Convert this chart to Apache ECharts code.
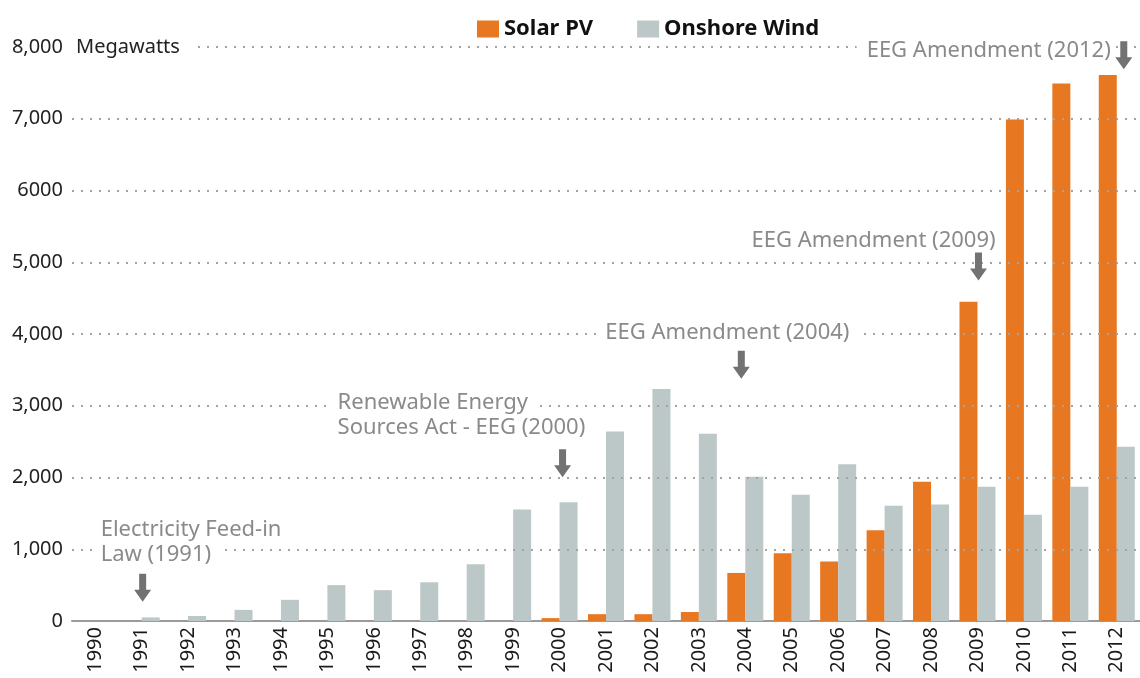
<!DOCTYPE html>
<html>
<head>
<meta charset="utf-8">
<script src="https://cdn.jsdelivr.net/npm/echarts@6/dist/echarts.min.js"></script>
<style>
  html, body { margin: 0; padding: 0; background: #fff; }
  #chart { width: 1140px; height: 678px; }
</style>
</head>
<body>
<div id="chart"></div>
<script>
const years = ["1990", "1991", "1992", "1993", "1994", "1995", "1996", "1997", "1998", "1999", "2000", "2001",
  "2002", "2003", "2004", "2005", "2006", "2007", "2008", "2009", "2010", "2011", "2012"];
const solarPV = [0, 0, 0, 0, 0, 0, 0, 0, 0, 0, 40, 95, 95, 125, 670, 945, 830, 1265, 1940, 4450, 6990, 7490, 7610];
const onshoreWind = [0, 50, 70, 155, 295, 500, 430, 540, 790, 1555, 1655, 2640, 3235, 2610, 2010, 1760, 2185, 1605,
  1625, 1870, 1480, 1870, 2430];
const yTicks = [1000, 2000, 3000, 4000, 5000, 6000, 7000, 8000];
const yTickLabels = ["0", "1,000", "2,000", "3,000", "4,000", "5,000", "6000", "7,000", "8,000"];
const yUnit = "Megawatts";

// annotations: arrow anchored at a year / level, with the text above it
const annoYears = ["1991", "2000", "2004", "2009", "2012"];
const annoLevels = [465, 2200, 3570, 4940, 7885];
const annoTexts = [
  ["Electricity Feed-in", "Law (1991)"],
  ["Renewable Energy", "Sources Act - EEG (2000)"],
  ["EEG Amendment (2004)"],
  ["EEG Amendment (2009)"],
  ["EEG Amendment (2012)"]
];

// label placement relative to each arrow (pixels)
const annoLayout = [
  { dx: -50, dy: -45, shift: 1, align: "left", rich: "b" },
  { dx: -233, dy: -48, shift: 3, align: "left", rich: "b" },
  { dx: -144, dy: -32, shift: -4, align: "left", rich: "b" },
  { dx: -235, dy: -26, shift: 1, align: "left", rich: "b" },
  { dx: -10, dy: -5, shift: 7, align: "right", rich: "r" }
];

const font = "Noto Sans";
const arrowPath = "path://M5 0L12 0L12 16L17 16L8.5 28L0 16L5 16Z";

const annoData = annoYears.map(function (y, i) {
  const lay = annoLayout[i];
  return {
    value: [y, annoLevels[i]],
    symbolOffset: [lay.shift, 0],
    label: {
      show: true,
      position: "inside",
      offset: [lay.dx, lay.dy],
      align: lay.align,
      verticalAlign: "middle",
      formatter: annoTexts[i].map(function (t) { return "{" + lay.rich + "|" + t + "}"; }).join("\n")
    }
  };
});

const annoRich = {
  b: { backgroundColor: "#fff", padding: [0, 8], fontSize: 22, color: "#8a8a8a", lineHeight: 25, fontFamily: font },
  r: { backgroundColor: "#fff", padding: [0, 3, 0, 10], fontSize: 22, color: "#8a8a8a", lineHeight: 25, fontFamily: font }
};

const chart = echarts.init(document.getElementById("chart"));
chart.setOption({
  animation: false,
  textStyle: { fontFamily: font },
  legend: {
    data: ["Solar PV", "Onshore Wind"],
    left: 472,
    top: 13,
    icon: "rect",
    itemWidth: 22,
    itemHeight: 17,
    itemGap: 44,
    selectedMode: false,
    textStyle: { fontSize: 22, fontWeight: "bold", color: "#111", fontFamily: font }
  },
  grid: { left: 72, right: -4, top: 47, bottom: 57 },
  xAxis: {
    type: "category",
    data: years,
    axisLine: { lineStyle: { color: "#9b9b9b", width: 2 } },
    axisTick: { show: false },
    axisLabel: { rotate: 90, fontSize: 20, color: "#1a1a1a", margin: 6, fontFamily: font }
  },
  yAxis: {
    type: "value",
    min: 0,
    max: 8000,
    interval: 1000,
    z: 7,
    name: yUnit,
    nameLocation: "end",
    nameGap: 0,
    nameTextStyle: {
      align: "left",
      verticalAlign: "middle",
      fontSize: 20,
      color: "#222",
      backgroundColor: "#fff",
      padding: [0, 16, 6, 4],
      fontFamily: font
    },
    axisLine: { show: false },
    axisTick: { show: false },
    splitLine: { show: false },
    axisLabel: {
      fontSize: 20,
      color: "#222",
      margin: 9,
      padding: [0, 0, 6, 0],
      fontFamily: font,
      formatter: function (v) { return yTickLabels[Math.round(v / 1000)]; }
    }
  },
  series: [
    {
      name: "Solar PV",
      type: "bar",
      data: solarPV,
      barWidth: 18,
      barGap: "0%",
      itemStyle: { color: "#E87722" }
    },
    {
      name: "Onshore Wind",
      type: "bar",
      data: onshoreWind,
      barWidth: 18,
      barGap: "0%",
      itemStyle: { color: "#BBC8C7" },
      // dotted grid drawn over the bars
      markLine: {
        silent: true,
        symbol: "none",
        label: { show: false },
        lineStyle: { color: "#a3a3a3", width: 2, type: [2, 7] },
        data: yTicks.map(function (v) { return { yAxis: v }; })
      }
    },
    {
      name: "annotations",
      type: "scatter",
      z: 6,
      silent: true,
      symbol: arrowPath,
      symbolSize: [17, 28],
      itemStyle: { color: "#727272", opacity: 1 },
      label: { rich: annoRich },
      data: annoData
    }
  ]
});
</script>
</body>
</html>
